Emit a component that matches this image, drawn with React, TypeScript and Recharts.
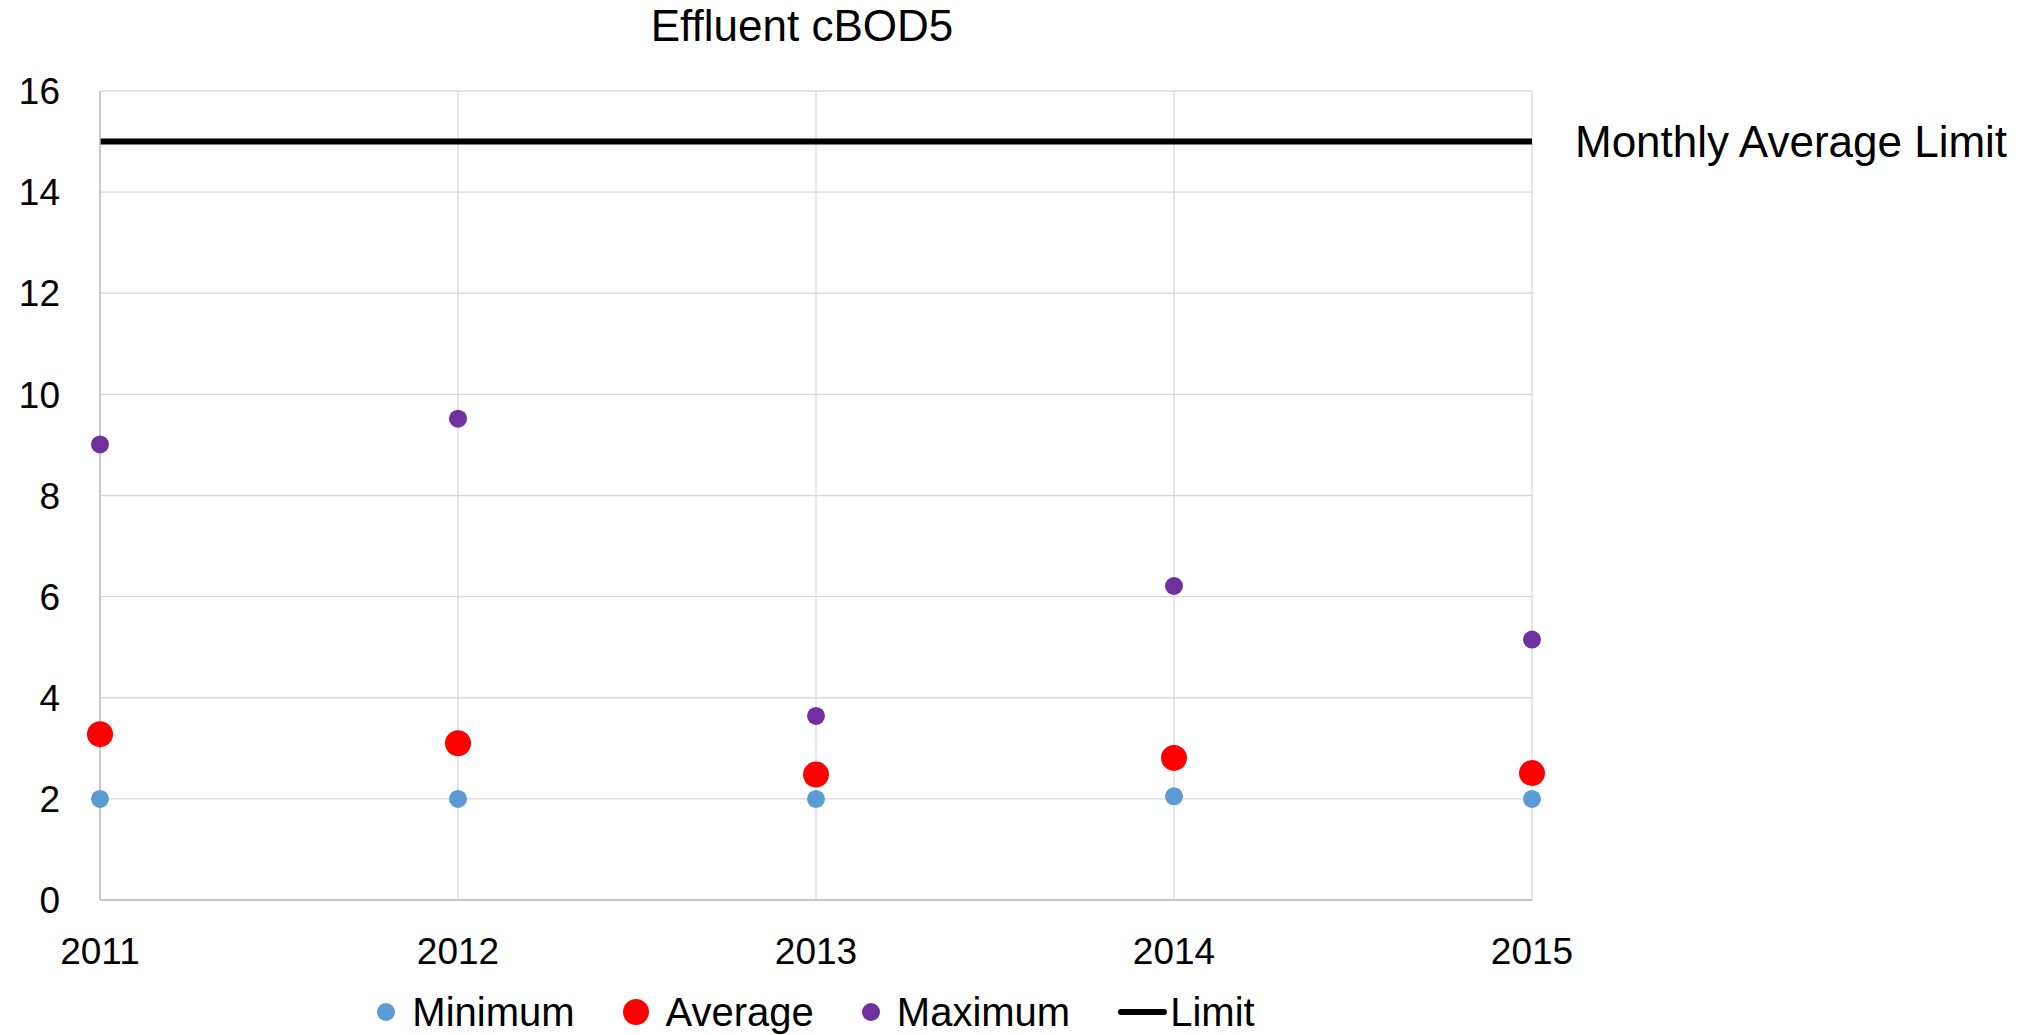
import React from 'react';
import { ComposedChart, Scatter, Line, XAxis, YAxis, CartesianGrid, LabelList } from 'recharts';

const years = [2011, 2012, 2013, 2014, 2015];
const minimum = [2.0, 2.0, 2.0, 2.05, 2.0];
const average = [3.28, 3.1, 2.48, 2.81, 2.51];
const maximum = [9.01, 9.52, 3.64, 6.21, 5.15];
const limit = [15, 15, 15, 15, 15];
const yTicks = [0, 2, 4, 6, 8, 10, 12, 14, 16];

const FONT = "'Liberation Sans', Arial, sans-serif";

const data = years.map((year, i) => ({
  year,
  minimum: minimum[i],
  average: average[i],
  maximum: maximum[i],
  limit: limit[i],
}));

const legendItems = [
  { name: 'Minimum', color: '#5B9BD5', r: 9, kind: 'dot' },
  { name: 'Average', color: '#FF0000', r: 13, kind: 'dot' },
  { name: 'Maximum', color: '#7030A0', r: 9, kind: 'dot' },
  { name: 'Limit', color: '#000000', r: 0, kind: 'line' },
];

const dotShape = (color: string, r: number) => (props: any) => (
  <circle cx={props.cx} cy={props.cy} r={r} fill={color} />
);

// only the last point of the limit line gets the label
const LimitLabel = (props: any) => {
  const { x, y, index } = props;
  if (index !== limit.length - 1) return null;
  return (
    <text x={x + 43} y={y} dominantBaseline="central" fontSize={44} fontFamily={FONT} fill="#000">
      Monthly Average Limit
    </text>
  );
};

const App: React.FC = () => {
  return (
    <div
      style={{
        position: 'absolute',
        left: 0,
        top: 0,
        width: 2038,
        height: 1035,
        overflow: 'hidden',
        background: '#fff',
        fontFamily: FONT,
      }}
    >
      <div
        style={{
          position: 'absolute',
          left: 0,
          top: 0,
          width: 1604,
          textAlign: 'center',
          fontSize: 44,
          lineHeight: '52px',
          color: '#000',
        }}
      >
        Effluent cBOD5
      </div>

      <ComposedChart width={2038} height={1035} data={data} margin={{ top: 91, right: 506, bottom: 0, left: 0 }}>
        <CartesianGrid stroke="#d9d9d9" strokeWidth={1.3} />
        <XAxis
          dataKey="year"
          type="number"
          domain={[2011, 2015]}
          ticks={years}
          height={135}
          tickSize={0}
          tickMargin={38}
          tickLine={false}
          axisLine={{ stroke: '#bfbfbf', strokeWidth: 1.5 }}
          tick={{ fill: '#000', fontSize: 37, fontFamily: FONT }}
        />
        <YAxis
          type="number"
          domain={[0, 16]}
          ticks={yTicks}
          width={100}
          tickSize={0}
          tickMargin={40}
          tickLine={false}
          axisLine={{ stroke: '#bfbfbf', strokeWidth: 1.5 }}
          tick={{ fill: '#000', fontSize: 37, fontFamily: FONT }}
        />
        <Scatter name="Minimum" dataKey="minimum" shape={dotShape('#5B9BD5', 9)} isAnimationActive={false} />
        <Scatter name="Average" dataKey="average" shape={dotShape('#FF0000', 13)} isAnimationActive={false} />
        <Scatter name="Maximum" dataKey="maximum" shape={dotShape('#7030A0', 9)} isAnimationActive={false} />
        <Line
          name="Limit"
          dataKey="limit"
          type="linear"
          stroke="#000"
          strokeWidth={6}
          dot={false}
          activeDot={false}
          isAnimationActive={false}
        >
          <LabelList dataKey="limit" content={LimitLabel} />
        </Line>
      </ComposedChart>

      <div
        style={{
          position: 'absolute',
          left: 100,
          top: 992,
          width: 1432,
          display: 'flex',
          justifyContent: 'center',
          alignItems: 'center',
          fontSize: 40,
          lineHeight: '40px',
          color: '#000',
        }}
      >
        {legendItems.map((item, i) => (
          <div
            key={item.name}
            style={{ display: 'flex', alignItems: 'center', marginRight: i < legendItems.length - 1 ? 48 : 0 }}
          >
            {item.kind === 'dot' ? (
              <span
                style={{
                  display: 'inline-block',
                  width: item.r * 2,
                  height: item.r * 2,
                  borderRadius: '50%',
                  background: item.color,
                  marginRight: 17,
                }}
              />
            ) : (
              <span
                style={{
                  display: 'inline-block',
                  width: 49,
                  height: 6,
                  borderRadius: 3,
                  background: item.color,
                  marginRight: 3,
                }}
              />
            )}
            <span>{item.name}</span>
          </div>
        ))}
      </div>
    </div>
  );
};

export default App;
